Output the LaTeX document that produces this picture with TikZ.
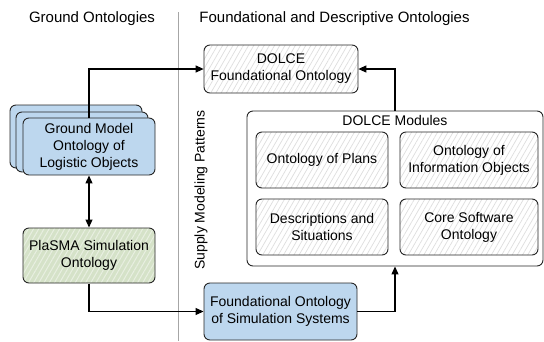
\documentclass[tikz,border=0pt]{standalone}
\usepackage{fontspec}
\setmainfont{Liberation Sans}
\usetikzlibrary{arrows.meta,patterns.meta,calc}
\definecolor{bluebox}{RGB}{189,215,238}
\definecolor{greenbox}{RGB}{213,226,200}
\definecolor{greenhatch}{RGB}{232,239,225}
\definecolor{grayhatch}{RGB}{222,222,222}
\tikzset{
  base/.style={draw=black!85, line width=0.9pt, rounded corners=6pt, align=center,
    font=\fontsize{14}{17}\selectfont, inner sep=0pt},
  graybox/.style={base, preaction={fill=white},
    pattern={Lines[angle=60,distance=4.5pt,line width=0.7pt]}, pattern color=grayhatch},
  greenbx/.style={base, preaction={fill=greenbox},
    pattern={Lines[angle=60,distance=4.5pt,line width=1pt]}, pattern color=greenhatch},
  bluebx/.style={base, fill=bluebox},
  conn/.style={line width=1.1pt, -{Triangle[length=8pt,width=7pt]}},
  title/.style={font=\fontsize{15}{18}\selectfont, inner sep=0pt},
  sidelabel/.style={font=\fontsize{14}{17}\selectfont, inner sep=0pt}
}
\begin{document}
\begin{tikzpicture}[x=1pt,y=-1pt]
\useasboundingbox (0,0) rectangle (544,341);
% separator
\draw[gray!70, line width=0.8pt] (178,12) -- (178,341);
\node[title] (tg) at (92,19) {Ground Ontologies};
\node[title] (tf) at (334.5,19) {Foundational and Descriptive Ontologies};
% DOLCE
\node[graybox, minimum width=154pt, minimum height=48pt] (dolce) at (281,69) {DOLCE\\Foundational Ontology};
% modules
\node[base, fill=white, minimum width=296pt, minimum height=155pt] (mod) at (395,188.5) {};
\node[sidelabel] (modl) at (395,120) {DOLCE Modules};
\node[graybox, minimum width=132pt, minimum height=56pt] (plans) at (322,160) {Ontology of Plans};
\node[graybox, minimum width=138pt, minimum height=56pt] (info) at (469,160) {Ontology of\\Information Objects};
\node[graybox, minimum width=132pt, minimum height=56pt] (desc) at (322,227) {Descriptions and\\Situations};
\node[graybox, minimum width=138pt, minimum height=56pt] (core) at (469,227) {Core Software\\Ontology};
% FOSS
\node[bluebx, minimum width=153pt, minimum height=57pt] (foss) at (280.5,311.5) {Foundational Ontology\\of Simulation Systems};
% Ground model stack
\node[bluebx, minimum width=132pt, minimum height=63pt] (g3) at (76,136.5) {};
\node[bluebx, minimum width=132pt, minimum height=60pt] (g2) at (82,142) {};
\node[bluebx, minimum width=132pt, minimum height=57pt] (gm) at (89,146.5) {Ground Model\\Ontology of\\Logistic Objects};
% PlaSMA
\node[greenbx, minimum width=132pt, minimum height=55pt] (plasma) at (89,255.5) {PlaSMA Simulation\\Ontology};
% rotated label
\node[sidelabel, rotate=90] (smp) at (201,190) {Supply Modeling Patterns};
% connectors
\draw[conn] (gm.north) |- (dolce.west);
\draw[conn, {Triangle[length=8pt,width=7pt]}-{Triangle[length=8pt,width=7pt]}] (gm.south) -- (plasma.north);
\draw[conn] (plasma.south) |- (foss.west);
\draw[conn] (foss.east) -| (mod.south);
\draw[conn] (mod.north) |- (dolce.east);
\end{tikzpicture}
\end{document}
